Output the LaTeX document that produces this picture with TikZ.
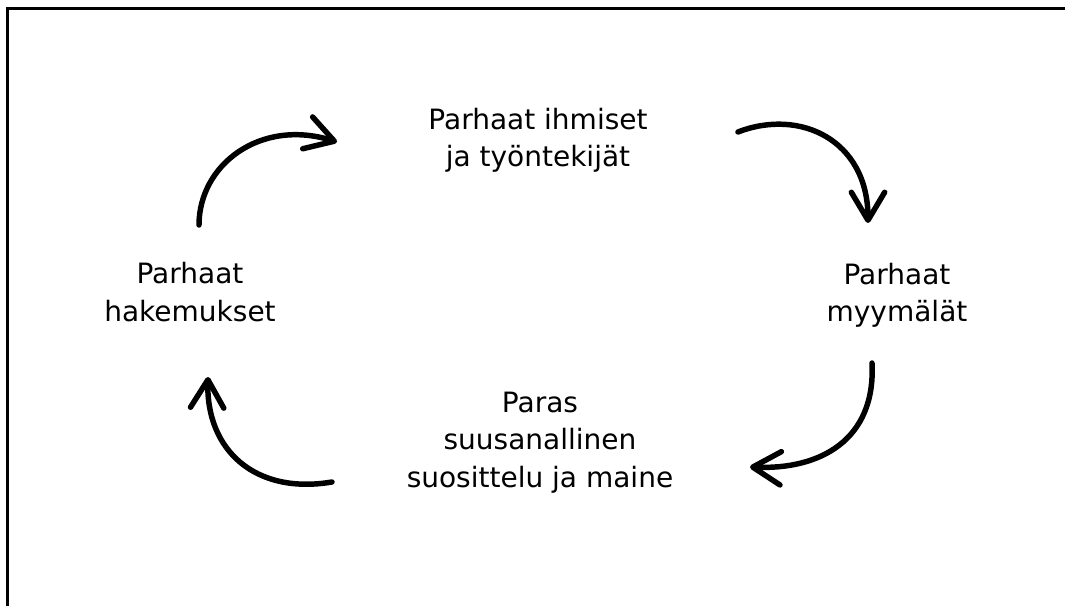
\documentclass[tikz,border=0pt]{standalone}
\usepackage{fontspec}
\setmainfont{DejaVu Sans}
\usetikzlibrary{arrows.meta}
\tikzset{
  cycleArrow/.style={draw=drawColor,line width=4.1pt,line cap=round,line join=round,
    -{Straight Barb[length=21pt,width=25pt,line cap=round,line join=round]}},
  cycleLabel/.style={text=drawColor,align=center,inner sep=0pt,outer sep=0pt,
    font=\fontsize{21}{28}\selectfont}
}
\begin{document}
\begin{tikzpicture}[x=1pt,y=1pt]
\definecolor{fillColor}{RGB}{255,255,255}
\path[use as bounding box,fill=fillColor] (0,0) rectangle (798.75,454.50);
\begin{scope}
\definecolor{drawColor}{RGB}{0,0,0}

\path[draw=drawColor,line width= 2.25pt] (  5.25,  0.00) --
	(  5.25,447.75) --
	(798.75,447.75);
\end{scope}
\begin{scope}
\definecolor{drawColor}{RGB}{0,0,0}

\node[cycleLabel] (ihmiset) at (403.50,349.13) {Parhaat ihmiset\\ja työntekijät};

\node[cycleLabel] (myymalat) at (672.75,233.25) {Parhaat\\myymälät};

\node[cycleLabel] (maine) at (405.00,122.55) {Paras\\suusanallinen\\suosittelu ja maine};

\node[cycleLabel] (hakemukset) at (142.50,235.50) {Parhaat\\hakemukset};

\coordinate (hakOut) at (149.25,285.75);
\coordinate (ihmIn) at (252.75,348.00);
\coordinate (ihmOut) at (553.50,355.50);
\coordinate (myyIn) at (651.00,287.25);
\coordinate (myyOut) at (654.00,182.25);
\coordinate (maiIn) at (562.50,104.25);
\coordinate (maiOut) at (249.00, 93.00);
\coordinate (hakIn) at (156.00,171.75);

\path[cycleArrow] (hakOut) .. controls (149.25,330.75) and (195.00,366.00) .. (ihmIn);

\path[cycleArrow] (ihmOut) .. controls (600.00,373.50) and (651.00,349.50) .. (myyIn);

\path[cycleArrow] (myyOut) .. controls (657.00,124.50) and (615.00,102.00) .. (maiIn);

\path[cycleArrow] (maiOut) .. controls (191.25, 83.25) and (154.50,117.00) .. (hakIn);
\end{scope}
\end{tikzpicture}
\end{document}
